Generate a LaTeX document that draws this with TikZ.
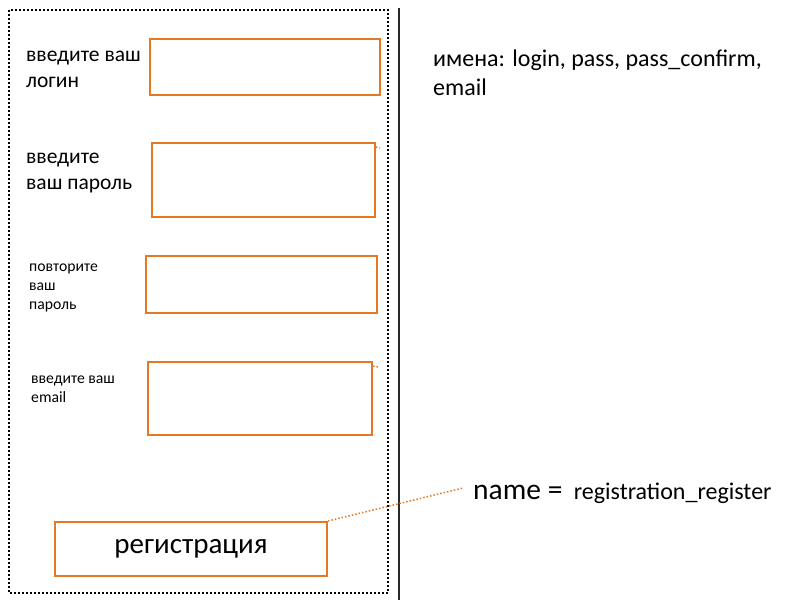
\documentclass[tikz,border=0pt]{standalone}
\usepackage{fontspec}
\setmainfont{Carlito}
\usetikzlibrary{positioning}
\definecolor{fieldorange}{RGB}{228,120,36}
\definecolor{rulegray}{RGB}{40,40,40}

\begin{document}
\begin{tikzpicture}[
  x=1pt, y=-1pt,
  field/.style={draw=fieldorange, line width=2pt, anchor=north west, inner sep=0pt},
  lbl/.style={anchor=west, align=left, inner sep=0pt},
  link/.style={draw=fieldorange, dotted, line width=1.5pt}
]
  \useasboundingbox (0,0) rectangle (800,600);

  % form frame and divider
  \draw[dotted, line width=2pt] (9,10) rectangle (388,593);
  \draw[rulegray, line width=2pt] (399,8) -- (399,600);

  % input fields
  \node[field, minimum width=230pt, minimum height=56pt] (login)    at (149,38)  {};
  \node[field, minimum width=223pt, minimum height=74pt] (pass)     at (151,142) {};
  \node[field, minimum width=231pt, minimum height=57pt] (passconf) at (145,255) {};
  \node[field, minimum width=224pt, minimum height=73pt] (email)    at (147,361) {};
  \node[field, minimum width=272pt, minimum height=54pt,
        font=\fontsize{29}{33}\selectfont] (regbtn) at (54,521) {регистрация};

  % field captions
  \node[lbl, font=\fontsize{21.5}{26}\selectfont] (loginlbl)    at (26,69)  {введите ваш\\логин};
  \node[lbl, font=\fontsize{21.5}{26}\selectfont] (passlbl)     at (26,173) {введите\\ваш пароль};
  \node[lbl, font=\fontsize{15.7}{19}\selectfont] (passconflbl) at (29,288) {повторите\\ваш\\пароль};
  \node[lbl, font=\fontsize{15.7}{19}\selectfont] (emaillbl)    at (31,389) {введите ваш\\email};

  % notes
  \node[lbl, font=\fontsize{24}{29}\selectfont] (names) at (433,73)
    {имена: login, pass, pass\_confirm,\\email};
  \node[lbl, font=\fontsize{29.5}{33}\selectfont] (namekey) at (473,492) {name =};
  \node[inner sep=0pt, font=\fontsize{24}{28}\selectfont, base right=11pt of namekey]
    (nameval) {registration\_register};

  % connectors
  \coordinate (linkend) at (463,488);
  \draw[link] (regbtn.north east) -- (linkend);
  \coordinate (passstub) at (380,148);
  \draw[link] ([yshift=-5pt]pass.north east) -- (passstub);
  \coordinate (emailstub) at (378,367);
  \draw[link] ([yshift=-5pt]email.north east) -- (emailstub);
\end{tikzpicture}
\end{document}
